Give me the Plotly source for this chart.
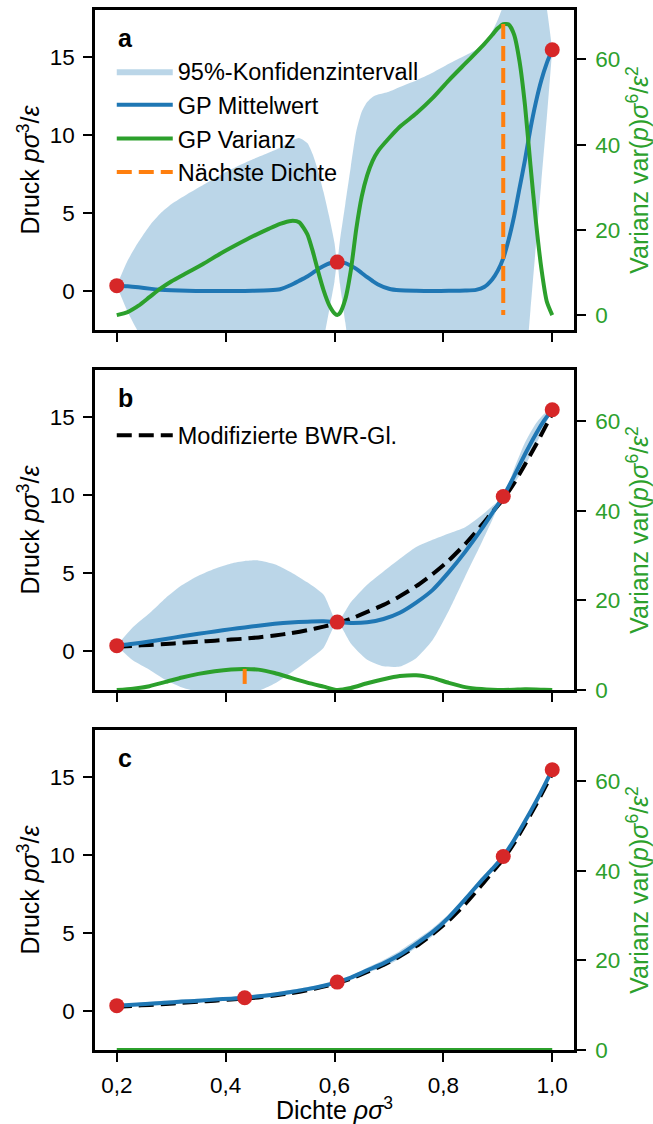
import numpy as np
import plotly.graph_objects as go

# ---------------- data ----------------
# panel a: GP after three evaluations
dens_a = [0.20, 0.22, 0.24, 0.26, 0.28, 0.30, 0.33, 0.36, 0.39, 0.42, 0.45, 0.48,
          0.50, 0.52, 0.535, 0.55, 0.56, 0.57, 0.58, 0.59, 0.60, 0.605, 0.61, 0.62,
          0.63, 0.64, 0.65, 0.66, 0.67, 0.68, 0.70, 0.72, 0.75, 0.78, 0.81, 0.84,
          0.86, 0.875, 0.89, 0.90, 0.91, 0.92, 0.93, 0.94, 0.95, 0.96, 0.97, 0.98,
          0.99, 1.00]
mean_a = [0.34, 0.31, 0.24, 0.15, 0.08, 0.04, 0.01, 0.0, 0.0, 0.0, 0.01, 0.04,
          0.11, 0.38, 0.65, 0.93, 1.16, 1.40, 1.60, 1.76, 1.84, 1.85, 1.84, 1.78,
          1.62, 1.42, 1.15, 0.88, 0.64, 0.42, 0.14, 0.04, 0.01, 0.0, 0.01, 0.03,
          0.07, 0.25, 0.75, 1.30, 2.09, 3.30, 4.80, 6.60, 8.40, 10.40, 12.10, 13.50,
          14.60, 15.45]
var_a = [0.0, 0.7, 2.2, 4.2, 6.2, 7.9, 10.0, 12.1, 14.4, 16.5, 18.5, 20.3,
         21.4, 22.1, 21.8, 19.0, 15.0, 10.2, 5.8, 2.4, 0.4, 0.0, 0.5, 3.8,
         10.5, 20.2, 27.8, 32.8, 36.2, 38.5, 41.5, 44.2, 47.3, 50.9, 55.1, 59.0,
         61.6, 63.6, 65.8, 67.3, 68.3, 68.2, 65.8, 59.5, 49.2, 35.2, 22.0, 11.0,
         3.2, 0.0]
obs_a_x = [0.20, 0.605, 1.00]
obs_a_y = [0.34, 1.85, 15.45]
next_a = 0.91

# panels b and c share one density grid
dens_bc = [0.20, 0.23, 0.26, 0.29, 0.32, 0.35, 0.38, 0.41, 0.435, 0.46, 0.49, 0.52,
           0.55, 0.58, 0.605, 0.63, 0.66, 0.69, 0.72, 0.75, 0.78, 0.81, 0.84, 0.87,
           0.89, 0.91, 0.93, 0.95, 0.97, 0.985, 1.00]
mean_b = [0.34, 0.46, 0.61, 0.77, 0.94, 1.10, 1.25, 1.40, 1.51, 1.62, 1.74, 1.83,
          1.88, 1.90, 1.85, 1.80, 1.84, 2.05, 2.45, 3.10, 3.90, 5.05, 6.35, 7.80,
          8.85, 9.90, 11.20, 12.60, 13.90, 14.75, 15.45]
var_b = [0.0, 0.3, 0.85, 1.8, 2.8, 3.6, 4.2, 4.6, 4.7, 4.55, 3.8, 2.7,
         1.65, 0.75, 0.0, 0.45, 1.5, 2.4, 3.1, 3.3, 2.7, 1.6, 0.65, 0.2,
         0.05, 0.0, 0.06, 0.15, 0.12, 0.05, 0.0]
obs_b_x = [0.20, 0.605, 0.91, 1.00]
obs_b_y = [0.34, 1.85, 9.90, 15.45]
next_b = 0.435

mean_c = [0.34, 0.40, 0.46, 0.53, 0.60, 0.66, 0.73, 0.79, 0.85, 0.94, 1.06, 1.22,
          1.40, 1.62, 1.85, 2.14, 2.60, 3.05, 3.60, 4.30, 5.05, 6.00, 7.15, 8.35,
          9.10, 9.90, 10.95, 12.15, 13.40, 14.40, 15.45]
var_c = [0.0, 0.002, 0.004, 0.005, 0.005, 0.004, 0.003, 0.002, 0.0, 0.002, 0.004, 0.005,
         0.004, 0.002, 0.0, 0.003, 0.008, 0.013, 0.016, 0.017, 0.015, 0.011, 0.007, 0.003,
         0.001, 0.0, 0.001, 0.002, 0.002, 0.001, 0.0]
obs_c_x = [0.20, 0.435, 0.605, 0.91, 1.00]
obs_c_y = [0.34, 0.85, 1.85, 9.90, 15.45]

# modified Benedict-Webb-Rubin equation of state
bwr = [0.27, 0.33, 0.39, 0.45, 0.52, 0.59, 0.66, 0.73, 0.79, 0.87, 0.99, 1.14,
       1.33, 1.56, 1.78, 2.06, 2.50, 2.95, 3.50, 4.15, 4.92, 5.80, 6.85, 8.05,
       8.90, 9.72, 10.75, 11.95, 13.20, 14.20, 15.20]

x_ticks = [0.2, 0.4, 0.6, 0.8, 1.0]
x_tick_labels = ["0,2", "0,4", "0,6", "0,8", "1,0"]
p_ticks = [0, 5, 10, 15]
var_ticks = [0, 20, 40, 60]

# ---------------- styling ----------------
BLUE = "#1f77b4"
GREEN = "#2ca02c"
ORANGE = "#ff7f0e"
RED = "#d62728"
BAND = "rgba(31,119,180,0.3)"
FONT = "Liberation Sans, Arial, sans-serif"
FS_TICK = 22.5
FS_LEG = 23.5
FS_TITLE = 25
LW = 4
DASH = "15px,7px"

fig = go.Figure()

panels = [
    dict(x=dens_a, mean=mean_a, var=var_a, ox=obs_a_x, oy=obs_a_y, nxt=next_a,
         bwr=None, xa="x", yl="y", yr="y2", first=True),
    dict(x=dens_bc, mean=mean_b, var=var_b, ox=obs_b_x, oy=obs_b_y, nxt=next_b,
         bwr=bwr, xa="x2", yl="y3", yr="y4", first=False),
    dict(x=dens_bc, mean=mean_c, var=var_c, ox=obs_c_x, oy=obs_c_y, nxt=None,
         bwr=bwr, xa="x3", yl="y5", yr="y6", first=False),
]

for k, p in enumerate(panels):
    x = np.array(p["x"])
    m = np.array(p["mean"])
    v = np.array(p["var"])
    half = 1.96 * np.sqrt(v)
    lg = p["first"]
    # confidence band
    fig.add_trace(go.Scatter(x=x, y=m - half, xaxis=p["xa"], yaxis=p["yl"],
                             mode="lines", line=dict(width=0, shape="spline", smoothing=0.6),
                             hoverinfo="skip", showlegend=False))
    fig.add_trace(go.Scatter(x=x, y=m + half, xaxis=p["xa"], yaxis=p["yl"],
                             mode="lines", fill="tonexty", fillcolor=BAND,
                             line=dict(width=0, shape="spline", smoothing=0.6),
                             name="95%-Konfidenzintervall", legend="legend",
                             showlegend=lg))
    # reference equation of state
    if p["bwr"] is not None:
        fig.add_trace(go.Scatter(x=x, y=p["bwr"], xaxis=p["xa"], yaxis=p["yl"],
                                 mode="lines", line=dict(color="black", width=LW, dash=DASH,
                                                         shape="spline", smoothing=0.6),
                                 name="Modifizierte BWR-Gl.", legend="legend2",
                                 showlegend=(k == 1)))
    # GP mean
    fig.add_trace(go.Scatter(x=x, y=m, xaxis=p["xa"], yaxis=p["yl"], mode="lines",
                             line=dict(color=BLUE, width=LW, shape="spline", smoothing=0.6),
                             name="GP Mittelwert", legend="legend", showlegend=lg))
    # observations
    fig.add_trace(go.Scatter(x=p["ox"], y=p["oy"], xaxis=p["xa"], yaxis=p["yl"],
                             mode="markers", marker=dict(color=RED, size=15),
                             showlegend=False, cliponaxis=False))
    # GP variance on the secondary axis
    fig.add_trace(go.Scatter(x=x, y=v, xaxis=p["xa"], yaxis=p["yr"], mode="lines",
                             line=dict(color=GREEN, width=LW, shape="spline", smoothing=0.6),
                             name="GP Varianz", legend="legend", showlegend=lg))
    # next density to evaluate: at the variance maximum
    if p["nxt"] is not None:
        fig.add_trace(go.Scatter(x=[p["nxt"], p["nxt"]], y=[max(p["var"]), 0],
                                 xaxis=p["xa"], yaxis=p["yr"], mode="lines",
                                 line=dict(color=ORANGE, width=LW, dash=DASH),
                                 name="Nächste Dichte", legend="legend", showlegend=lg))

# ---------------- layout ----------------
top_px, bot_px, h_panel, gap = 10, 74, 320, 40
plot_h = 1124 - top_px - bot_px
domains = []
for i in range(3):
    t = 1 - (i * (h_panel + gap)) / plot_h
    b = t - h_panel / plot_h
    domains.append([max(b, 0), min(t, 1)])

axis_common = dict(showline=True, linecolor="black", linewidth=2.5, ticks="outside",
                   ticklen=9, tickwidth=2, tickcolor="black", showgrid=False,
                   zeroline=False, automargin=False,
                   tickfont=dict(family=FONT, size=FS_TICK, color="black"))

yl_title = "Druck <i>pσ</i><sup>3</sup>/<i>ε</i>"
yr_title = "Varianz var(<i>p</i>)<i>σ</i><sup>6</sup>/<i>ε</i><sup>2</sup>"

layout = dict(width=653, height=1124, plot_bgcolor="white", paper_bgcolor="white",
              margin=dict(l=95, r=79, t=top_px, b=bot_px),
              font=dict(family=FONT, size=FS_TICK, color="black"))

for i in range(3):
    xn = "xaxis" if i == 0 else f"xaxis{i+1}"
    yl_n = "yaxis" if i == 0 else f"yaxis{2*i+1}"
    yr_n = f"yaxis{2*i+2}"
    yl_id = "y" if i == 0 else f"y{2*i+1}"
    x_id = "x" if i == 0 else f"x{i+1}"
    layout[xn] = dict(axis_common, domain=[0, 1], anchor=yl_id, range=[0.16, 1.04],
                      mirror=True, tickvals=x_ticks, ticktext=x_tick_labels,
                      showticklabels=(i == 2), ticklabelstandoff=4)
    if i == 2:
        layout[xn]["title"] = dict(text="Dichte <i>ρσ</i><sup>3</sup>", standoff=4,
                                   font=dict(family=FONT, size=FS_TITLE))
    layout[yl_n] = dict(axis_common, domain=domains[i], anchor=x_id, range=[-2.5, 18],
                        tickvals=p_ticks, ticklabelstandoff=4,
                        title=dict(text=yl_title, standoff=3,
                                   font=dict(family=FONT, size=FS_TITLE)))
    r_range = [-3.5, 71.6] if i == 0 else [0, 71.4]
    layout[yr_n] = dict(axis_common, overlaying=yl_id, anchor=x_id, side="right",
                        range=r_range, tickvals=var_ticks, ticklabelstandoff=5,
                        tickfont=dict(family=FONT, size=FS_TICK, color=GREEN),
                        title=dict(text=yr_title, standoff=15,
                                   font=dict(family=FONT, size=FS_TITLE, color=GREEN)))

layout["legend"] = dict(x=0.035, y=0.962, xanchor="left", yanchor="top",
                        traceorder="normal", bgcolor="rgba(0,0,0,0)",
                        font=dict(family=FONT, size=FS_LEG),
                        itemwidth=56, tracegroupgap=0)
layout["legend2"] = dict(x=0.035, y=0.612, xanchor="left", yanchor="top",
                         traceorder="normal", bgcolor="rgba(0,0,0,0)",
                         font=dict(family=FONT, size=FS_LEG), itemwidth=56)

annotations = []
for i, lab in enumerate(["a", "b", "c"]):
    annotations.append(dict(text=f"<b>{lab}</b>", xref="paper", yref="paper",
                            x=(125 - 95) / 479, y=domains[i][1] - 28 / plot_h,
                            xanchor="center", yanchor="middle", showarrow=False,
                            font=dict(family=FONT, size=25, color="black")))
layout["annotations"] = annotations

fig.update_layout(**layout)
fig.write_html("out.html")
